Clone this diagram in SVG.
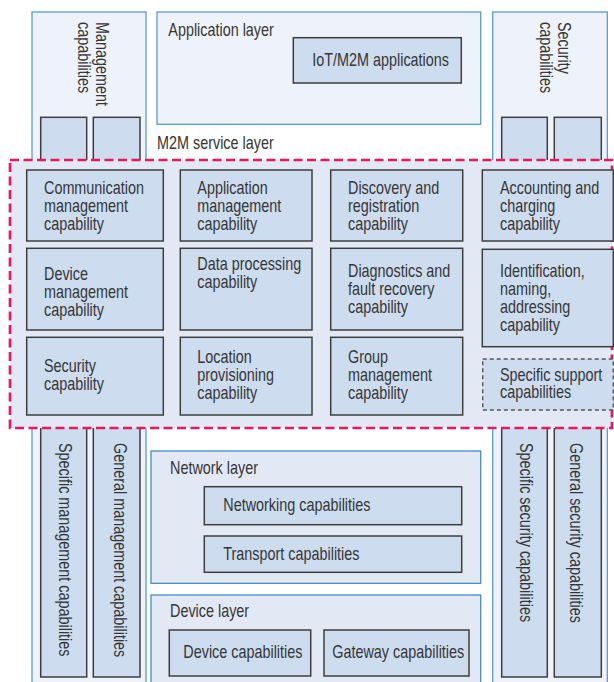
<svg xmlns="http://www.w3.org/2000/svg" width="614" height="682" viewBox="0 0 614 682">
<style>
.outer{fill:#EEF3FB;stroke:#5B9BD5;stroke-width:1.3}
.layer{fill:#E2E9F5;stroke:#4A8BC9;stroke-width:1.3}
.box{fill:#CDDCEF;stroke:#3E3E3E;stroke-width:1.5}
.sbox{fill:#CDDCEF;stroke:#555;stroke-width:1.4;stroke-dasharray:4 3}
.region{fill:#E2E9F5;stroke:#E6195C;stroke-width:2.7;stroke-dasharray:9 4.5}
text{font-family:"Liberation Sans",Arial,sans-serif;font-size:18px;fill:#363636}
</style>
<rect width="614" height="682" fill="#FFFFFF"/>

<g id="management-column">
<rect class="outer" x="32" y="12" width="114" height="680"/>
<text transform="translate(95.5,22) rotate(90) scale(0.8,1)"><tspan x="0" y="0">Management</tspan><tspan x="0" dy="18">capabilities</tspan></text>
</g>
<g id="specific-management">
<rect class="box" x="40.7" y="117.3" width="46" height="559.7"/>
<text transform="translate(58.6,443) rotate(90) scale(0.8,1)">Specific management capabilities</text>
</g>
<g id="general-management">
<rect class="box" x="93.3" y="117.3" width="46.7" height="559.7"/>
<text transform="translate(113.6,443) rotate(90) scale(0.8,1)">General management capabilities</text>
</g>

<g id="security-column">
<rect class="outer" x="492.7" y="12" width="114.6" height="680"/>
<text transform="translate(558,22) rotate(90) scale(0.8,1)"><tspan x="0" y="0">Security</tspan><tspan x="0" dy="18">capabilities</tspan></text>
</g>
<g id="specific-security">
<rect class="box" x="501.7" y="117.3" width="45.6" height="559.7"/>
<text transform="translate(520,443) rotate(90) scale(0.8,1)">Specific security capabilities</text>
</g>
<g id="general-security">
<rect class="box" x="554.3" y="117.3" width="47" height="559.7"/>
<text transform="translate(569.6,443) rotate(90) scale(0.8,1)">General security capabilities</text>
</g>

<g id="application-layer">
<rect class="outer" x="157" y="12" width="323.7" height="112.3"/>
<text transform="translate(168.3,36) scale(0.8,1)">Application layer</text>
</g>
<g id="iot-m2m-applications">
<rect class="box" x="293.3" y="37.7" width="168" height="45.3"/>
<text transform="translate(312.3,66) scale(0.8,1)">IoT/M2M applications</text>
</g>

<g id="m2m-service-layer">
<text transform="translate(157,149) scale(0.8,1)">M2M service layer</text>
<rect class="region" x="10" y="160" width="602" height="268"/>
</g>

<g id="communication-management">
<rect class="box" x="26.7" y="170" width="136.6" height="71"/>
<text transform="translate(44,194) scale(0.8,1)"><tspan x="0" y="0">Communication</tspan><tspan x="0" dy="18">management</tspan><tspan x="0" dy="18">capability</tspan></text>
</g>
<g id="application-management">
<rect class="box" x="180.3" y="170" width="131.7" height="71"/>
<text transform="translate(197.3,194) scale(0.8,1)"><tspan x="0" y="0">Application</tspan><tspan x="0" dy="18">management</tspan><tspan x="0" dy="18">capability</tspan></text>
</g>
<g id="discovery-registration">
<rect class="box" x="330.7" y="170" width="132" height="71"/>
<text transform="translate(348,194) scale(0.8,1)"><tspan x="0" y="0">Discovery and</tspan><tspan x="0" dy="18">registration</tspan><tspan x="0" dy="18">capability</tspan></text>
</g>
<g id="accounting-charging">
<rect class="box" x="482.3" y="170" width="131" height="71"/>
<text transform="translate(500,194) scale(0.8,1)"><tspan x="0" y="0">Accounting and</tspan><tspan x="0" dy="18">charging</tspan><tspan x="0" dy="18">capability</tspan></text>
</g>

<g id="device-management">
<rect class="box" x="26.7" y="248.3" width="136.6" height="81.7"/>
<text transform="translate(44,280) scale(0.8,1)"><tspan x="0" y="0">Device</tspan><tspan x="0" dy="18">management</tspan><tspan x="0" dy="18">capability</tspan></text>
</g>
<g id="data-processing">
<rect class="box" x="180.3" y="248.3" width="131.7" height="81.7"/>
<text transform="translate(197.3,270) scale(0.8,1)"><tspan x="0" y="0">Data processing</tspan><tspan x="0" dy="18">capability</tspan></text>
</g>
<g id="diagnostics-fault-recovery">
<rect class="box" x="330.7" y="248.3" width="132" height="81.7"/>
<text transform="translate(348,277) scale(0.8,1)"><tspan x="0" y="0">Diagnostics and</tspan><tspan x="0" dy="18">fault recovery</tspan><tspan x="0" dy="18">capability</tspan></text>
</g>
<g id="identification-naming-addressing">
<rect class="box" x="482.3" y="249.3" width="131" height="97.4"/>
<text transform="translate(500,277) scale(0.8,1)"><tspan x="0" y="0">Identification,</tspan><tspan x="0" dy="18">naming,</tspan><tspan x="0" dy="18">addressing</tspan><tspan x="0" dy="18">capability</tspan></text>
</g>

<g id="security-capability">
<rect class="box" x="26.7" y="337.3" width="136.6" height="77.7"/>
<text transform="translate(44,372) scale(0.8,1)"><tspan x="0" y="0">Security</tspan><tspan x="0" dy="18">capability</tspan></text>
</g>
<g id="location-provisioning">
<rect class="box" x="180.3" y="337.3" width="131.7" height="77.7"/>
<text transform="translate(197.3,363) scale(0.8,1)"><tspan x="0" y="0">Location</tspan><tspan x="0" dy="18">provisioning</tspan><tspan x="0" dy="18">capability</tspan></text>
</g>
<g id="group-management">
<rect class="box" x="330.7" y="337.3" width="132" height="77.7"/>
<text transform="translate(348,363) scale(0.8,1)"><tspan x="0" y="0">Group</tspan><tspan x="0" dy="18">management</tspan><tspan x="0" dy="18">capability</tspan></text>
</g>
<g id="specific-support">
<rect class="sbox" x="482.7" y="359" width="130.6" height="51"/>
<text transform="translate(500,380.5) scale(0.8,1)"><tspan x="0" y="0">Specific support</tspan><tspan x="0" dy="18">capabilities</tspan></text>
</g>

<g id="network-layer">
<rect class="layer" x="151" y="451" width="329.7" height="132.3"/>
<text transform="translate(170,474) scale(0.8,1)">Network layer</text>
</g>
<g id="networking-capabilities">
<rect class="box" x="204.3" y="486.7" width="257.4" height="38"/>
<text transform="translate(223.3,511) scale(0.8,1)">Networking capabilities</text>
</g>
<g id="transport-capabilities">
<rect class="box" x="204.3" y="536" width="257.4" height="36.3"/>
<text transform="translate(223.3,559.5) scale(0.8,1)">Transport capabilities</text>
</g>

<g id="device-layer">
<rect class="layer" x="151" y="595" width="329.7" height="100"/>
<text transform="translate(170,617) scale(0.8,1)">Device layer</text>
</g>
<g id="device-capabilities">
<rect class="box" x="169.3" y="630" width="141.4" height="46"/>
<text transform="translate(183.3,658) scale(0.8,1)">Device capabilities</text>
</g>
<g id="gateway-capabilities">
<rect class="box" x="324" y="630" width="145" height="46"/>
<text transform="translate(332.3,658) scale(0.8,1)">Gateway capabilities</text>
</g>

<g id="connectors"/>
</svg>
